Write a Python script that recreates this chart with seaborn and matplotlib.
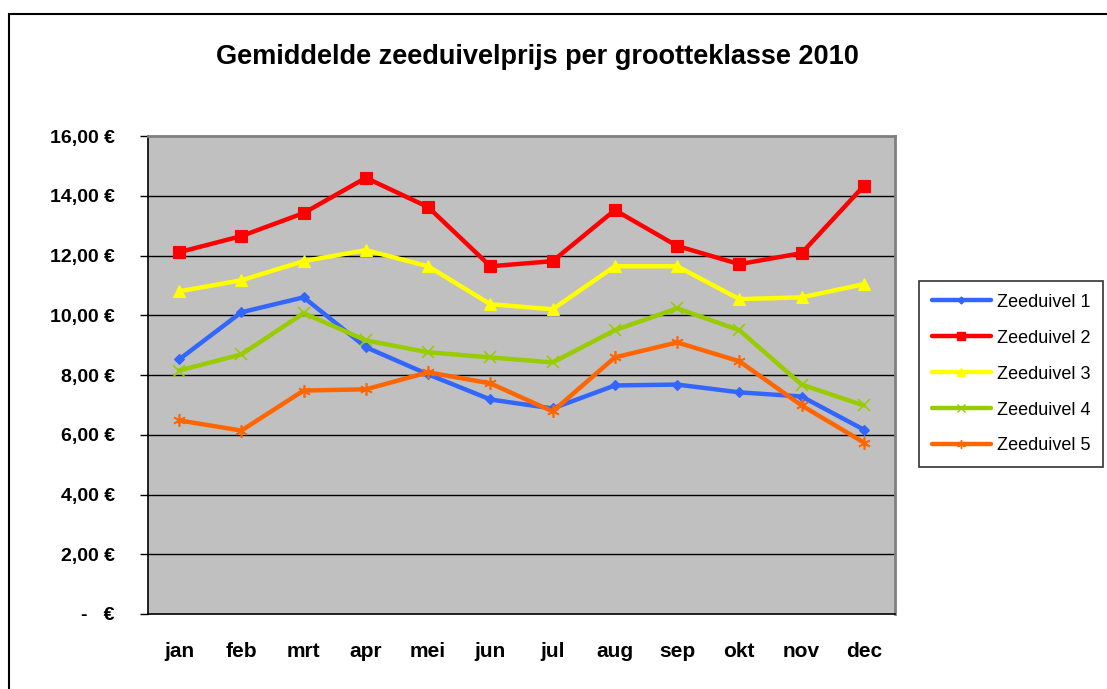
import matplotlib
matplotlib.use("Agg")
import matplotlib.pyplot as plt
import seaborn as sns
import pandas as pd
import numpy as np
from matplotlib.patches import Rectangle
from matplotlib.lines import Line2D

months = ["jan", "feb", "mrt", "apr", "mei", "jun", "jul", "aug", "sep", "okt", "nov", "dec"]
zeeduivel_1 = [8.52, 10.10, 10.60, 8.93, 8.02, 7.18, 6.88, 7.65, 7.68, 7.42, 7.28, 6.17]
zeeduivel_2 = [12.11, 12.65, 13.42, 14.60, 13.62, 11.64, 11.81, 13.52, 12.32, 11.71, 12.08, 14.33]
zeeduivel_3 = [10.80, 11.17, 11.81, 12.18, 11.64, 10.37, 10.20, 11.64, 11.64, 10.54, 10.60, 11.04]
zeeduivel_4 = [8.15, 8.69, 10.07, 9.16, 8.76, 8.59, 8.42, 9.50, 10.23, 9.50, 7.68, 6.98]
zeeduivel_5 = [6.48, 6.14, 7.48, 7.52, 8.09, 7.72, 6.78, 8.59, 9.09, 8.46, 6.98, 5.74]
series_names = ["Zeeduivel 1", "Zeeduivel 2", "Zeeduivel 3", "Zeeduivel 4", "Zeeduivel 5"]
y_ticks = [0, 2, 4, 6, 8, 10, 12, 14, 16]
y_labels = ["-   €", "2,00 €", "4,00 €", "6,00 €", "8,00 €", "10,00 €", "12,00 €", "14,00 €", "16,00 €"]
title = "Gemiddelde zeeduivelprijs per grootteklasse 2010"

colors = ["#3366FF", "#FF0000", "#FFFF00", "#99CC00", "#FF6600"]
markers = ["D", "s", "^", "x", (6, 2, 0)]
msizes = [5, 9, 8, 8, 9]

sns.set_style("white")
plt.rcParams["font.family"] = ["Liberation Sans", "DejaVu Sans"]
plt.rcParams["text.color"] = "black"
plt.rcParams["xtick.color"] = "black"
plt.rcParams["ytick.color"] = "black"
plt.rcParams["axes.labelcolor"] = "black"

all_vals = [zeeduivel_1, zeeduivel_2, zeeduivel_3, zeeduivel_4, zeeduivel_5]
df = pd.concat([
    pd.DataFrame({"x": np.arange(len(months)), "val": v, "serie": n})
    for v, n in zip(all_vals, series_names)
])

fig = plt.figure(figsize=(11.07, 6.89), dpi=100)
ax = fig.add_axes([148/1107, 75/689, (895-148)/1107, (614-136)/689])
ax.set_facecolor("#C0C0C0")

for i, name in enumerate(series_names):
    sub = df[df["serie"] == name]
    sns.lineplot(data=sub, x="x", y="val", ax=ax, color=colors[i], lw=3.2,
                 marker=markers[i], markersize=msizes[i], markeredgecolor=colors[i],
                 markeredgewidth=1.2 if i in (3, 4) else 0.8, label=name, legend=False, zorder=3)

ax.set_xlim(-0.5, len(months) - 0.5)
ax.set_ylim(0, 16)
ax.set_yticks(y_ticks)
ax.set_yticklabels(y_labels, fontsize=14, fontweight="bold")
ax.set_xticks(np.arange(len(months)))
ax.set_xticklabels(months, fontsize=15, fontweight="bold")
ax.set_xticks(np.arange(-0.5, len(months)), minor=True)
ax.tick_params(axis="x", which="major", length=0, pad=20)
ax.tick_params(axis="x", which="minor", length=6, width=1, color="black", direction="out")
ax.tick_params(axis="y", length=6, width=1, color="black", direction="out", pad=18, left=True)
ax.set_xlabel("")
ax.set_ylabel("")
for y in y_ticks[1:-1]:
    ax.axhline(y, color="black", lw=1, zorder=1)
ax.spines["left"].set_color("black")
ax.spines["left"].set_linewidth(1.2)
ax.spines["bottom"].set_color("black")
ax.spines["bottom"].set_linewidth(1.2)
ax.spines["top"].set_color("#808080")
ax.spines["top"].set_linewidth(2)
ax.spines["right"].set_color("#808080")
ax.spines["right"].set_linewidth(2)

fig.text(537/1107, 1 - 57/689, title, ha="center", va="center", fontsize=19.5, fontweight="bold")

handles = [Line2D([0], [0], color=c, lw=3.2, marker=m, markersize=s*0.7, markeredgecolor=c)
           for c, m, s in zip(colors, markers, msizes)]
leg = fig.legend(handles, series_names, loc="upper left",
                 bbox_to_anchor=(919/1107, 1 - 281/689), frameon=True, fancybox=False,
                 edgecolor="black", fontsize=13, handlelength=3.3, labelspacing=1.05,
                 borderpad=0.7, handletextpad=0.3, borderaxespad=0)
leg.get_frame().set_linewidth(1.2)

fig.patches.append(Rectangle((9/1107, -0.1), 1.2, 1 - 14/689 + 0.1, transform=fig.transFigure,
                             fill=False, edgecolor="black", lw=1.5, zorder=0))

fig.savefig("out.png", dpi=100)
